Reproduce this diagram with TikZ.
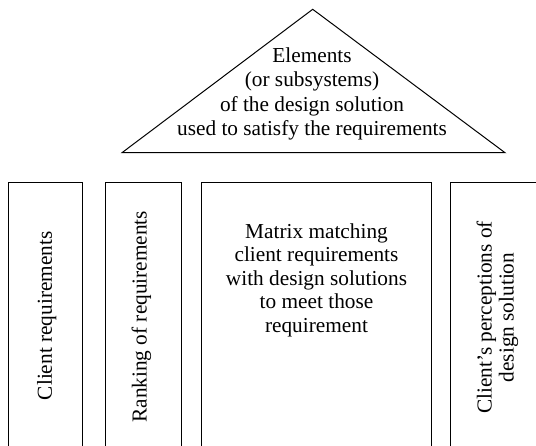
\documentclass[tikz,border=0pt]{standalone}
\usepackage{fontspec}
\setmainfont{Liberation Serif}
\begin{document}
\begin{tikzpicture}[x=1pt,y=1pt,
  pillar/.style={draw, line width=1pt},
  label/.style={font=\fontsize{21.3}{23.5}\selectfont, align=center, inner sep=0pt}]
  \useasboundingbox (0,0) rectangle (536,445);
  \clip (0,0) rectangle (536,445);
  % roof
  \coordinate (apex) at (312.7,435.7);
  \coordinate (bl) at (122,292.3);
  \coordinate (br) at (505,292.3);
  \draw[line width=1pt, line join=miter] (bl) -- (apex) -- (br) -- cycle;
  \node[label, font=\fontsize{21.3}{24.5}\selectfont] (roof) at (312,351) {Elements\\(or subsystems)\\of the design solution\\used to satisfy the requirements};
  % pillars, running off the lower edge
  \draw[pillar] (8.3,-10) |- (82.7,262.3) -- (82.7,-10);
  \draw[pillar] (105.3,-10) |- (181.7,262.3) -- (181.7,-10);
  \draw[pillar] (201,-10) |- (431.5,262.3) -- (431.5,-10);
  \draw[pillar] (450.5,-10) |- (545,262.3) -- (545,-10);
  \node[label, rotate=90] (p1) at (46.7,129.2) {Client requirements};
  \node[label, rotate=90] (p2) at (141.5,128.3) {Ranking of requirements};
  \node[label] (p3) at (316.5,165) {Matrix matching\\client requirements\\with design solutions\\to meet those\\requirement};
  \node[label, rotate=90, font=\fontsize{21.3}{22}\selectfont] (p4) at (497.5,127.5) {Client’s perceptions of\\design solution};
\end{tikzpicture}
\end{document}
